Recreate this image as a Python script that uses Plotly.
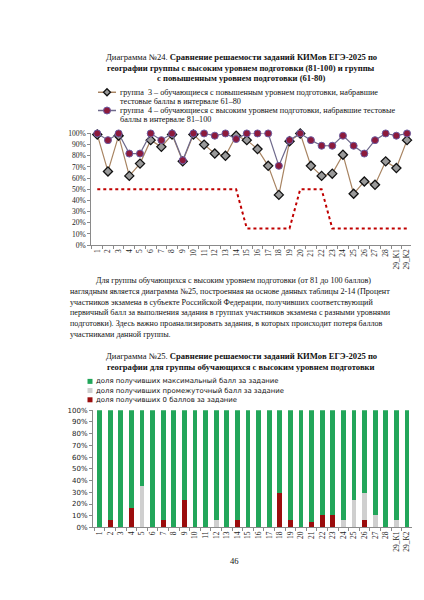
import plotly.graph_objects as go

W, H = 424, 600

# номера заданий (общие для обеих диаграмм)
tasks = [str(i) for i in range(1, 29)] + ['29_K1', '29_K2']

# Диаграмма 24: решаемость, %
group3 = [99, 66, 98, 62, 73, 94, 88, 99, 75, 99, 90, 82, 80, 98, 94,
          86, 71, 45, 93, 100, 71, 62, 64, 81, 46, 57, 54, 75, 69, 94]
group4 = [100, 94, 100, 82, 82, 100, 94, 100, 76, 100, 100, 98, 100, 95, 100,
          100, 100, 71, 94, 100, 94, 89, 89, 98, 89, 82, 94, 100, 98, 100]
threshold = [50, 50, 50, 50, 50, 50, 50, 50, 50, 50, 50, 50, 50, 50, 15,
             15, 15, 15, 15, 50, 50, 50, 15, 15, 15, 15, 15, 15, 15, 15]

# Диаграмма 25: доли, %
share_zero = [0, 6, 0, 17, 0, 0, 6, 0, 23, 0, 0, 0, 0, 6, 0,
              0, 0, 29, 6, 0, 5, 11, 11, 0, 0, 6, 0, 0, 0, 0]
share_part = [0, 0, 0, 0, 35, 0, 0, 0, 0, 0, 0, 6, 0, 0, 0,
              0, 0, 0, 0, 0, 0, 0, 0, 6, 23, 23, 11, 0, 6, 0]
share_max = [100, 94, 100, 83, 65, 100, 94, 100, 77, 100, 100, 94, 100, 94, 100,
             100, 100, 71, 94, 100, 95, 89, 89, 94, 77, 71, 89, 100, 94, 100]

SERIF = "Liberation Serif"
SANS = "DejaVu Sans"


def X(p):
    return p / W


def Y(p):
    return 1 - p / H


fig = go.Figure()

# --- диаграмма 24 ---
fig.add_trace(go.Scatter(x=tasks, y=threshold, mode='lines', showlegend=False,
                         line=dict(color='#c00000', width=2, dash='dot'), hoverinfo='skip'))
fig.add_trace(go.Scatter(x=tasks, y=group3, mode='lines+markers', name='группа 3',
                         line=dict(color='#a88462', width=1.2), cliponaxis=False,
                         marker=dict(symbol='diamond', size=7, color='#9a9a9a',
                                     line=dict(color='#111', width=1.3))))
fig.add_trace(go.Scatter(x=tasks, y=group4, mode='lines+markers', name='группа 4',
                         line=dict(color='#6f6a8c', width=1.2), cliponaxis=False,
                         marker=dict(symbol='circle', size=7, color='#8c1a3c',
                                     line=dict(color='#6c5ca0', width=1))))

# --- диаграмма 25 ---
fig.add_trace(go.Bar(x=tasks, y=share_zero, name='доля получивших 0 баллов за задание',
                     marker=dict(color='#9b0d0d', line=dict(width=0)), xaxis='x2', yaxis='y2'))
fig.add_trace(go.Bar(x=tasks, y=share_part, name='доля получивших промежуточный балл за задание',
                     marker=dict(color='#cfcfcf', line=dict(width=0)), xaxis='x2', yaxis='y2'))
fig.add_trace(go.Bar(x=tasks, y=share_max, name='доля получивших максимальный балл за задание',
                     marker=dict(color='#22a65a', line=dict(width=0)), xaxis='x2', yaxis='y2'))

axis_common = dict(showgrid=False, zeroline=False, showline=True, linecolor='#8a8a8a',
                   ticks='outside', tickcolor='#8a8a8a', ticklen=3)

fig.update_layout(
    width=W, height=H, margin=dict(l=0, r=0, t=0, b=0),
    paper_bgcolor='white', plot_bgcolor='white', showlegend=False,
    barmode='stack', bargap=0.55,
    xaxis=dict(axis_common, domain=[X(83.3), X(403)], type='category', range=[-0.56, 29.37],
               tickson='boundaries', tickangle=-90, anchor='y',
               tickfont=dict(family=SERIF, size=7.5, color='#222')),
    yaxis=dict(axis_common, domain=[Y(236.7), Y(123.3)], range=[0, 100], dtick=10,
               ticksuffix='%', anchor='x', tickfont=dict(family=SERIF, size=7.5, color='#222')),
    xaxis2=dict(axis_common, domain=[X(85), X(404)], type='category', range=[-0.63, 29.47],
                tickson='boundaries', tickangle=-90, anchor='y2',
                tickfont=dict(family=SERIF, size=7.5, color='#222')),
    yaxis2=dict(axis_common, domain=[Y(523.3), Y(404.3)], range=[0, 100], dtick=10,
                ticksuffix='%', anchor='x2', tickfont=dict(family=SANS, size=7, color='#222')),
)


def text(s, x, y, size=8.6, family=SERIF, xanchor='left'):
    fig.add_annotation(text=s, x=X(x), y=Y(y), xref='paper', yref='paper', showarrow=False,
                       xanchor=xanchor, yanchor='middle',
                       font=dict(family=family, size=size, color='#111'))


# заголовок 24
text('Диаграмма №24. <b>Сравнение решаемости заданий КИМов ЕГЭ-2025 по</b>', 233, 46, xanchor='center')
text('<b>географии группы с высоким уровнем подготовки (81-100) и группы</b>', 233, 56.5, xanchor='center')
text('<b>с повышенным уровнем подготовки (61-80)</b>', 233, 67, xanchor='center')

# легенда 24
text('группа  3 – обучающиеся с повышенным уровнем подготовки, набравшие', 110, 81.5, size=8.2)
text('тестовые баллы в интервале 61–80', 110, 90.5, size=8.2)
text('группа  4 – обучающиеся с высоким уровнем подготовки, набравшие тестовые', 110, 100, size=8.2)
text('баллы в интервале 81–100', 110, 109, size=8.2)
fig.add_shape(type='line', xref='paper', yref='paper', x0=X(90), x1=X(108), y0=Y(81.5), y1=Y(81.5),
              line=dict(color='#a88462', width=1.5))
fig.add_shape(type='path', xref='paper', yref='paper', xsizemode='pixel', ysizemode='pixel',
              xanchor=X(99), yanchor=Y(81.5), path='M 0,3.5 L 3.5,0 L 0,-3.5 L -3.5,0 Z',
              fillcolor='#9a9a9a', line=dict(color='#111', width=1.3))
fig.add_shape(type='line', xref='paper', yref='paper', x0=X(90), x1=X(108), y0=Y(100), y1=Y(100),
              line=dict(color='#6f6a8c', width=1.5))
fig.add_shape(type='circle', xref='paper', yref='paper', xsizemode='pixel', ysizemode='pixel',
              xanchor=X(99), yanchor=Y(100), x0=-3.5, x1=3.5, y0=-3.5, y1=3.5,
              fillcolor='#8c1a3c', line=dict(color='#6c5ca0', width=1))

# абзац
text('Для группы обучающихся с высоким уровнем подготовки (от 81 до 100 баллов)', 86, 273, size=8.1)
text('наглядным является диаграмма №25, построенная на основе данных таблицы 2-14 (Процент', 60, 284, size=8.1)
text('участников экзамена в субъекте Российской Федерации, получивших соответствующий', 60, 295, size=8.1)
text('первичный балл за выполнения задания в группах участников экзамена с разными уровнями', 60, 305.5, size=8.1)
text('подготовки). Здесь важно проанализировать задания, в которых происходит потеря баллов', 60, 316, size=8.1)
text('участниками данной группы.', 60, 327, size=8.1)

# заголовок 25
text('Диаграмма №25. <b>Сравнение решаемости заданий КИМов ЕГЭ-2025 по</b>', 233, 349.5, xanchor='center')
text('<b>географии для группы обучающихся с высоким уровнем подготовки</b>', 233, 360, xanchor='center')

# легенда 25
leg2 = [('доля получивших максимальный балл за задание', '#22a65a', 375),
        ('доля получивших промежуточный балл за задание', '#cfcfcf', 384.3),
        ('доля получивших 0 баллов за задание', '#9b0d0d', 393.7)]
for label, col, yy in leg2:
    fig.add_shape(type='rect', xref='paper', yref='paper', xsizemode='pixel', ysizemode='pixel',
                  xanchor=X(82), yanchor=Y(yy), x0=-2.5, x1=2.5, y0=-2.5, y1=2.5,
                  fillcolor=col, line=dict(width=0))
    text(label, 85.5, yy, size=6.9, family=SANS)

# номер страницы
text('46', 227, 557, xanchor='center')

fig.write_html("out.html")
